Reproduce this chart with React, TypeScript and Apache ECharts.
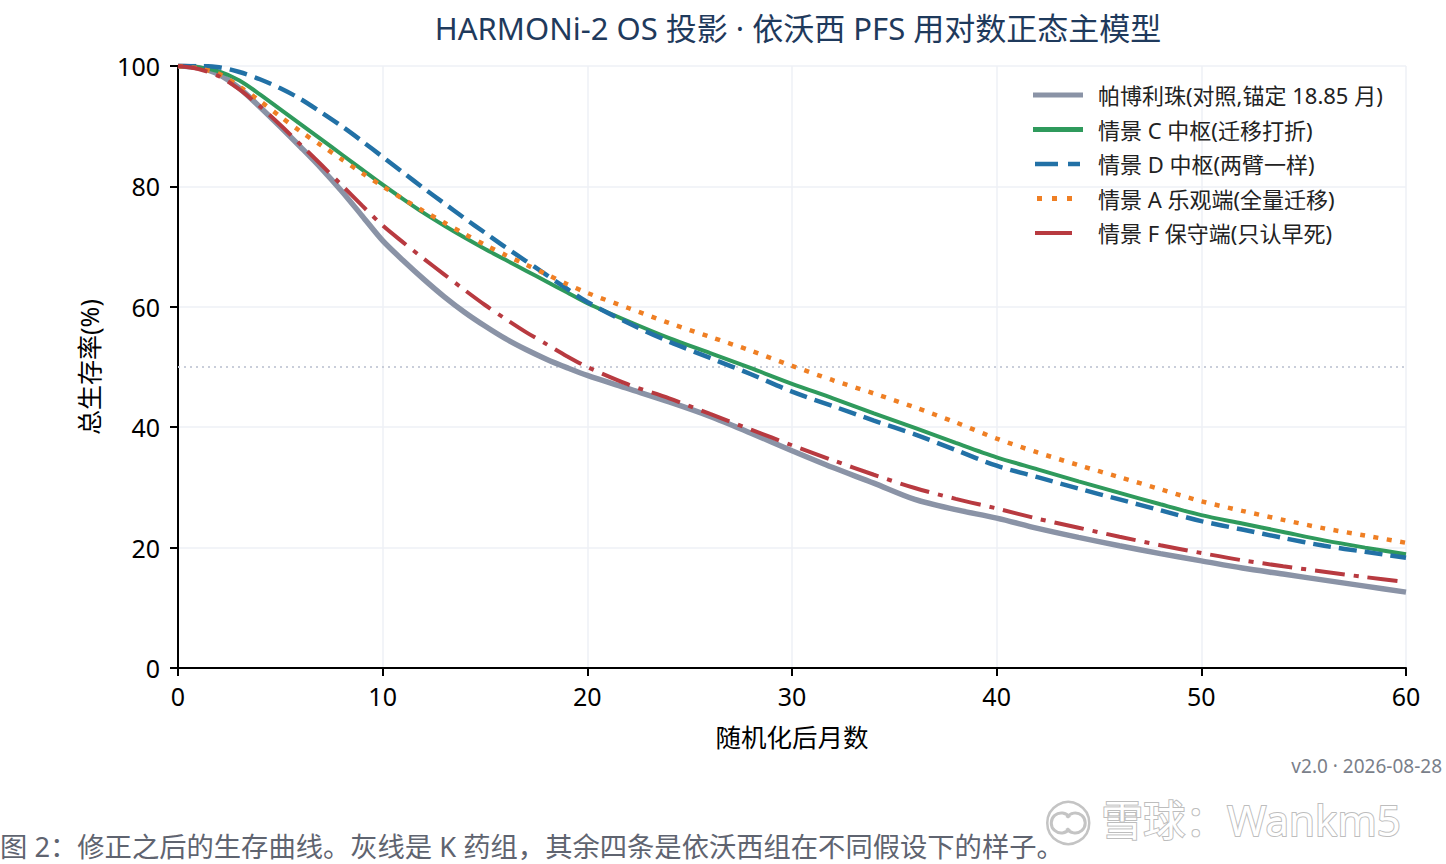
import React, { useEffect, useRef } from "react";
import * as echarts from "echarts";

const months = [0, 1, 2, 3, 4, 5, 6, 7, 8, 9, 10, 11, 12, 13, 14, 15, 16, 17, 18, 19, 20, 22, 24, 26, 28, 30, 32, 34, 36, 38, 40, 42, 44, 46, 48, 50, 52, 54, 56, 58, 60];

const pembro = [100, 99.7, 98.6, 96.3, 93.2, 89.9, 86.5, 83, 79.2, 75.1, 71, 67.7, 64.6, 61.7, 59.1, 56.8, 54.7, 52.9, 51.3, 49.9, 48.6, 46.4, 44.2, 41.8, 39, 36.1, 33.3, 30.7, 28, 26.3, 24.9, 23.2, 21.7, 20.3, 19, 17.8, 16.6, 15.6, 14.6, 13.6, 12.6];
const scenC = [100, 99.8, 99.1, 97.6, 95.3, 92.8, 90.3, 87.8, 85.3, 82.8, 80.3, 77.9, 75.6, 73.5, 71.5, 69.6, 67.8, 66, 64.2, 62.4, 60.6, 57.6, 54.8, 52.3, 49.8, 47.2, 44.8, 42.3, 39.9, 37.4, 35, 33, 31, 29.1, 27.2, 25.4, 24, 22.6, 21.2, 20, 18.9];
const scenD = [100, 100, 99.8, 99, 97.8, 96.3, 94.5, 92.3, 90, 87.5, 84.9, 82.3, 79.7, 77.2, 74.7, 72.3, 69.9, 67.6, 65.3, 63, 60.8, 57.3, 54.2, 51.5, 48.8, 45.9, 43.5, 41.1, 38.8, 36.2, 33.6, 31.7, 29.8, 28, 26.2, 24.4, 23, 21.6, 20.3, 19.3, 18.3];
const scenA = [100, 99.6, 98.7, 96.6, 94.2, 91.6, 89.1, 86.8, 84.5, 82.2, 80, 77.9, 75.9, 74, 72.1, 70.3, 68.6, 67, 65.4, 63.8, 62.3, 59.8, 57.3, 55, 52.7, 50.2, 47.8, 45.6, 43.3, 40.8, 38.1, 35.8, 33.7, 31.7, 29.7, 27.7, 26.1, 24.6, 23.2, 22, 20.8];
const scenF = [100, 99.5, 98.3, 96.1, 93.3, 90.2, 86.9, 83.6, 80.2, 76.8, 73.5, 70.7, 68, 65.4, 62.8, 60.3, 58, 55.8, 53.8, 51.8, 50, 47.1, 44.8, 42.2, 39.6, 37, 34.5, 32.1, 29.9, 28.1, 26.5, 24.8, 23.3, 21.8, 20.4, 19.1, 17.9, 16.9, 16, 15.1, 14.3];

const seriesNames = [
  "帕博利珠(对照,锚定 18.85 月)",
  "情景 C 中枢(迁移打折)",
  "情景 D 中枢(两臂一样)",
  "情景 A 乐观端(全量迁移)",
  "情景 F 保守端(只认早死)",
];
const xTicks = [0, 10, 20, 30, 40, 50, 60];
const yTicks = [0, 20, 40, 60, 80, 100];
const refLevel = 50;

const FONT = "'Noto Sans', 'Noto Sans CJK SC', sans-serif";

// tiny invisible markers pin the icon's bounding box to 50 x 5
const PIN = "M0,0h0.01v0.01h-0.01z M49.99,4.99h0.01v0.01h-0.01z ";
const legendIcons = [
  "path://M0,0H50V5H0Z",
  "path://M0,0.5H50V4.5H0Z",
  "path://" + PIN + "M2,0.3H25V4.7H2Z M35,0.3H47V4.7H35Z",
  "path://" + PIN + "M4,0H9V5H4Z M19,0H24V5H19Z M34,0H39V5H34Z",
  "path://" + PIN + "M2,0.5H39V4.5H2Z",
];

function pairs(vals: number[]) {
  return months.map((m, i) => [m, vals[i]]);
}

export default function App() {
  const ref = useRef<HTMLDivElement>(null);
  useEffect(() => {
    if (!ref.current) return;
    const chart = echarts.init(ref.current, undefined, { renderer: "svg" });
    const styles = [
      { color: "#8a93a6", width: 5.5, type: "solid" as any },
      { color: "#2f9a5c", width: 4, type: "solid" as any },
      { color: "#2271a6", width: 4.5, type: [18, 8] as any },
      { color: "#ef7f24", width: 4.5, type: [5, 8.5] as any },
      { color: "#b83a40", width: 4, type: [30, 9, 5, 9] as any },
    ];
    const datas = [pembro, scenC, scenD, scenA, scenF];
    const series: any[] = datas.map((d, i) => ({
      name: seriesNames[i],
      type: "line",
      data: pairs(d),
      showSymbol: false,
      symbol: "none",
      smooth: 0.3,
      z: 3 + i,
      lineStyle: { color: styles[i].color, width: styles[i].width, type: styles[i].type, cap: "butt" },
      itemStyle: { color: styles[i].color },
      ...(i === 0
        ? {
            markLine: {
              silent: true,
              symbol: ["none", "none"],
              label: { show: false },
              lineStyle: { color: "#c9ceda", width: 2, type: [2, 4] },
              data: [{ yAxis: refLevel }],
              z: 1,
            },
          }
        : {}),
    }));

    chart.setOption({
      animation: false,
      backgroundColor: "#ffffff",
      textStyle: { fontFamily: FONT },
      title: {
        text: "HARMONi-2 OS 投影 · 依沃西 PFS 用对数正态主模型",
        left: 793,
        top: 7,
        textAlign: "center",
        textStyle: { fontFamily: FONT, fontSize: 31, fontWeight: "normal", color: "#1f3a5c" },
      },
      legend: {
        orient: "vertical",
        left: 1028,
        top: 79,
        itemWidth: 50,
        itemHeight: 5,
        itemGap: 12.5,
        symbolKeepAspect: false,
        itemStyle: { borderWidth: 0 },
        textStyle: { fontFamily: FONT, fontSize: 22, color: "#222", padding: [0, 0, 0, 10] },
        data: seriesNames.map((n, i) => ({
          name: n,
          icon: legendIcons[i],
          itemStyle: { color: styles[i].color, borderWidth: 0 },
        })),
      },
      grid: { left: 178, right: 40, top: 66, bottom: 196, containLabel: false },
      xAxis: {
        type: "value",
        min: xTicks[0],
        max: xTicks[xTicks.length - 1],
        interval: 10,
        name: "随机化后月数",
        nameLocation: "middle",
        nameGap: 56,
        nameTextStyle: { fontFamily: FONT, fontSize: 25.5, color: "#000" },
        axisLine: { lineStyle: { color: "#000", width: 2 } },
        axisTick: { show: true, inside: false, length: 8, lineStyle: { color: "#000", width: 2 } },
        axisLabel: { fontFamily: FONT, fontSize: 25, color: "#000", margin: 15 },
        splitLine: { show: true, lineStyle: { color: "#eef0f6", width: 1.5 } },
      },
      yAxis: {
        type: "value",
        min: yTicks[0],
        max: yTicks[yTicks.length - 1],
        interval: 20,
        name: "总生存率(%)",
        nameLocation: "middle",
        nameRotate: 90,
        nameGap: 77,
        nameTextStyle: { fontFamily: FONT, fontSize: 25, color: "#000" },
        axisLine: { show: true, lineStyle: { color: "#000", width: 2 } },
        axisTick: { show: true, inside: false, length: 8, lineStyle: { color: "#000", width: 2 } },
        axisLabel: { fontFamily: FONT, fontSize: 25, color: "#000", margin: 18 },
        splitLine: { show: true, lineStyle: { color: "#eef0f6", width: 1.5 } },
      },
      graphic: [
        {
          type: "text",
          right: 4,
          top: 756,
          style: { text: "v2.0 · 2026-08-28", fontFamily: FONT, fontSize: 19, fill: "#7a7f8a" },
        },
        {
          type: "text",
          left: 0,
          top: 833,
          style: {
            text: "图 2：修正之后的生存曲线。灰线是 K 药组，其余四条是依沃西组在不同假设下的样子。",
            fontFamily: FONT,
            fontSize: 27.3,
            fill: "#5f6470",
          },
        },
        {
          type: "group",
          left: 1046,
          top: 797,
          children: [
            {
              type: "circle",
              shape: { cx: 23, cy: 25, r: 21 },
              style: { fill: "#ffffff", stroke: "#c4c4c4", lineWidth: 2.5 },
            },
            {
              type: "arc",
              shape: { cx: 16, cy: 25, r: 10, startAngle: 0.6, endAngle: 5.7 },
              style: { fill: "none", stroke: "#c4c4c4", lineWidth: 3 },
            },
            {
              type: "arc",
              shape: { cx: 30, cy: 25, r: 10, startAngle: 3.7, endAngle: 2.6 },
              style: { fill: "none", stroke: "#c4c4c4", lineWidth: 3 },
            },
            {
              type: "text",
              x: 56,
              y: 0,
              style: {
                text: "雪球：Wankm5",
                fontFamily: FONT,
                fontSize: 42,
                fill: "#ffffff",
                stroke: "#bdbdbd",
                lineWidth: 2,
              },
            },
          ],
        },
      ],
      series,
    });
    return () => chart.dispose();
  }, []);
  return (
    <div
      ref={ref}
      style={{ position: "absolute", left: 0, top: 0, width: 1446, height: 864, background: "#fff" }}
    />
  );
}
